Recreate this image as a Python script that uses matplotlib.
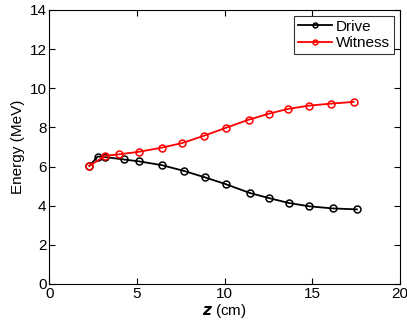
import matplotlib
matplotlib.use('Agg')
import matplotlib.pyplot as plt

plt.rcParams['font.family'] = ['Liberation Sans', 'DejaVu Sans']

# distance along plasma (cm) and energy (MeV)
drive_z = [2.29, 2.76, 3.2, 4.25, 5.14, 6.42, 7.66, 8.9, 10.06, 11.43, 12.51, 13.64, 14.8, 16.15, 17.54]
drive_e = [6.03, 6.51, 6.48, 6.36, 6.26, 6.07, 5.78, 5.44, 5.10, 4.65, 4.39, 4.14, 3.97, 3.86, 3.81]
witness_z = [2.29, 3.2, 3.96, 5.1, 6.4, 7.58, 8.82, 10.08, 11.37, 12.53, 13.6, 14.82, 16.04, 17.35]
witness_e = [6.03, 6.55, 6.62, 6.75, 6.96, 7.2, 7.57, 7.98, 8.39, 8.70, 8.94, 9.11, 9.21, 9.30]

fig = plt.figure(figsize=(4.07, 3.24), dpi=100)
ax = fig.add_axes([0.121, 0.1235, 0.862, 0.846])

ax.plot(drive_z, drive_e, '-o', color='black', lw=1.3, ms=5, mfc='none', mew=1.1, label='Drive')
ax.plot(witness_z, witness_e, '-o', color='red', lw=1.3, ms=5, mfc='none', mew=1.1, label='Witness')

ax.set_xlim(0, 20)
ax.set_ylim(0, 14)
ax.set_xticks(range(0, 21, 5))
ax.set_yticks(range(0, 15, 2))
ax.tick_params(direction='in', top=True, right=True, labelsize=11, length=4, pad=2)
ax.set_xlabel(r'$\mathbfit{z}$ (cm)', fontsize=11, labelpad=1)
ax.set_ylabel('Energy (MeV)', fontsize=11, labelpad=3)

leg = ax.legend(loc='upper right', fontsize=11, fancybox=False, edgecolor='black',
                handlelength=2.2, borderaxespad=0.4, borderpad=0.25, labelspacing=0.15,
                handletextpad=0.3, markerscale=0.7)
leg.get_frame().set_linewidth(0.8)

fig.savefig('out.png', dpi=100)
